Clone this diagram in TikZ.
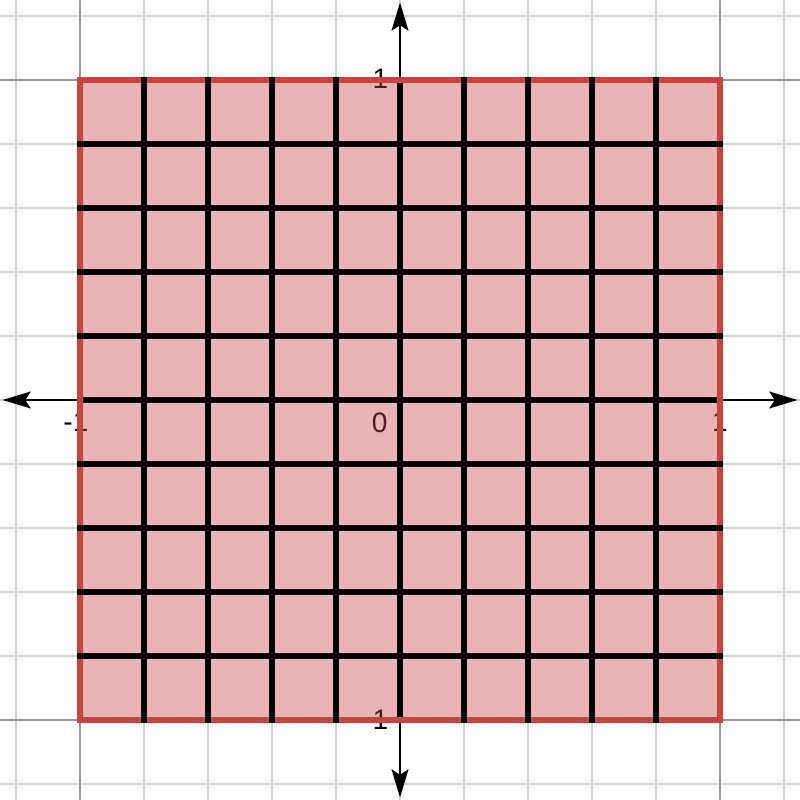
\documentclass[tikz,border=0pt]{standalone}
\usepackage{fontspec}
\setmainfont{Liberation Sans}
\usepackage{xcolor}
\usetikzlibrary{arrows.meta,positioning}
\definecolor{rojodesmos}{HTML}{C74440}
\tikzset{
  menor/.style={gray!35,line width=0.7pt},
  mayor/.style={gray!80,line width=0.7pt},
  ejes/.style={{Stealth[length=10pt,width=6pt,inset=2pt]}-{Stealth[length=10pt,width=6pt,inset=2pt]},black,line width=1pt},
  region/.style={fill=rojodesmos,fill opacity=0.4},
  borde/.style={draw=rojodesmos,line width=1.8pt},
  malla/.style={black,line width=1.8pt},
  etiq/.style={inner sep=0pt,font=\fontsize{10}{12}\selectfont}
}

\begin{document}
\begin{tikzpicture}[x=4cm,y=4cm]
\useasboundingbox (-1.25,-1.25) rectangle (1.25,1.25);
% cuadricula de fondo
\foreach \i in {-6,...,6} {
  \draw[menor] ({\i/5},-1.25) -- ({\i/5},1.25);
  \draw[menor] (-1.25,{\i/5}) -- (1.25,{\i/5});
}
\foreach \i in {-1,1} {
  \draw[mayor] (\i,-1.25) -- (\i,1.25);
  \draw[mayor] (-1.25,\i) -- (1.25,\i);
}
% ejes
\coordinate (izq) at (-1.242,0); \coordinate (der) at (1.242,0);
\coordinate (abajo) at (0,-1.242); \coordinate (arriba) at (0,1.242);
\draw[ejes] (izq) -- (der);
\draw[ejes] (abajo) -- (arriba);
% etiquetas
\node[etiq,anchor=north,yshift=-1.5mm,xshift=-0.5mm] (xm1) at (-1,0) {-1};
\node[etiq,anchor=north,yshift=-1.5mm] (xp1) at (1,0) {1};
\node[etiq,anchor=north east,xshift=-1.5mm,yshift=-1.5mm] (cero) at (0,0) {0};
\node[etiq,anchor=east,xshift=-1.4mm,yshift=0.2mm] (yp1) at (0,1) {1};
\node[etiq,anchor=east,xshift=-1.4mm] (ym1) at (0,-1) {-1};
% cuadrado relleno y malla
\fill[region] (-1,-1) rectangle (1,1);
\draw[malla] (0,-1) -- (0,1);
\draw[malla] (-1,0) -- (1,0);
\draw[borde] (-1,-1) rectangle (1,1);
\foreach \i in {-4,-3,-2,-1,1,2,3,4} {
  \draw[malla,shorten <=-0.9pt,shorten >=-0.9pt] ({\i/5},-1) -- ({\i/5},1);
  \draw[malla,shorten <=-0.9pt,shorten >=-0.9pt] (-1,{\i/5}) -- (1,{\i/5});
}
\end{tikzpicture}
\end{document}
